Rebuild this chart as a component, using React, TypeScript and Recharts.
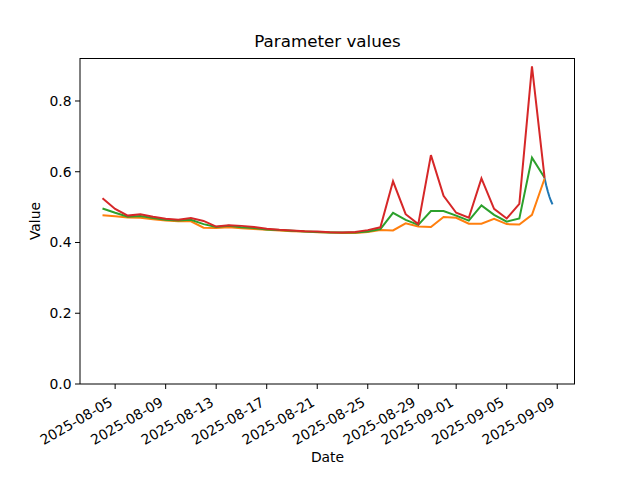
import React from 'react';
import { LineChart, Line, XAxis, YAxis } from 'recharts';

const dates = [
  '2025-08-04', '2025-08-05', '2025-08-06', '2025-08-07', '2025-08-08', '2025-08-09',
  '2025-08-10', '2025-08-11', '2025-08-12', '2025-08-13', '2025-08-14', '2025-08-15',
  '2025-08-16', '2025-08-17', '2025-08-18', '2025-08-19', '2025-08-20', '2025-08-21',
  '2025-08-22', '2025-08-23', '2025-08-24', '2025-08-25', '2025-08-26', '2025-08-27',
  '2025-08-28', '2025-08-29', '2025-08-30', '2025-08-31', '2025-09-01', '2025-09-02',
  '2025-09-03', '2025-09-04', '2025-09-05', '2025-09-06', '2025-09-07', '2025-09-08',
];

const orangeValues = [
  0.477, 0.474, 0.471, 0.470, 0.466, 0.462, 0.460, 0.460, 0.442, 0.441, 0.443, 0.440,
  0.438, 0.436, 0.434, 0.432, 0.431, 0.429, 0.428, 0.427, 0.427, 0.430, 0.435, 0.434,
  0.454, 0.445, 0.444, 0.472, 0.470, 0.453, 0.453, 0.467, 0.452, 0.451, 0.478, 0.581,
];

const greenValues = [
  0.496, 0.484, 0.473, 0.475, 0.469, 0.464, 0.462, 0.464, 0.452, 0.444, 0.447, 0.443,
  0.441, 0.437, 0.435, 0.433, 0.431, 0.430, 0.428, 0.428, 0.428, 0.431, 0.438, 0.484,
  0.464, 0.450, 0.489, 0.489, 0.476, 0.462, 0.505, 0.478, 0.459, 0.468, 0.640, 0.583,
];

const redValues = [
  0.525, 0.495, 0.476, 0.480, 0.473, 0.467, 0.464, 0.469, 0.461, 0.445, 0.449, 0.447,
  0.444, 0.439, 0.436, 0.434, 0.432, 0.431, 0.429, 0.428, 0.430, 0.435, 0.443, 0.573,
  0.480, 0.452, 0.647, 0.532, 0.484, 0.470, 0.581, 0.495, 0.468, 0.509, 0.898, 0.583,
];

const blueTimes = [
  '2025-09-08T00:00', '2025-09-08T03:00', '2025-09-08T06:00',
  '2025-09-08T09:00', '2025-09-08T12:00', '2025-09-08T15:00',
];
const blueValues = [0.582, 0.562, 0.545, 0.530, 0.518, 0.508];

const xTickLabels = [
  '2025-08-05', '2025-08-09', '2025-08-13', '2025-08-17', '2025-08-21',
  '2025-08-25', '2025-08-29', '2025-09-01', '2025-09-05', '2025-09-09',
];
const yTickValues = [0, 0.2, 0.4, 0.6, 0.8];

const toMs = (s: string) => Date.parse(s.length === 10 ? s + 'T00:00:00Z' : s + ':00Z');
const fmtDate = (v: number) => new Date(v).toISOString().slice(0, 10);

const series = [
  { name: 'orange', color: '#ff7f0e', data: dates.map((d, i) => ({ t: toMs(d), v: orangeValues[i] })) },
  { name: 'green', color: '#2ca02c', data: dates.map((d, i) => ({ t: toMs(d), v: greenValues[i] })) },
  { name: 'red', color: '#d62728', data: dates.map((d, i) => ({ t: toMs(d), v: redValues[i] })) },
];
const blueData = blueTimes.map((d, i) => ({ t: toMs(d), v: blueValues[i] }));

const allT = [...series.flatMap((s) => s.data.map((p) => p.t)), ...blueData.map((p) => p.t)];
const allV = [...orangeValues, ...greenValues, ...redValues, ...blueValues];
const tMin = Math.min(...allT);
const tMax = Math.max(...allT);
const tPad = (tMax - tMin) * 0.05;
const vMin = Math.min(...allV);
const vMax = Math.max(...allV);
const yTop = vMax + (vMax - vMin) * 0.05;

const FONT = 'DejaVu Sans';

const XTick = (props: any) => {
  const { x, payload } = props;
  const ax = x - 1.5;
  const ay = 405;
  return (
    <text
      x={ax}
      y={ay}
      transform={`rotate(-30 ${ax} ${ay})`}
      textAnchor="end"
      fontFamily={FONT}
      fontSize={13.9}
      fill="#000"
    >
      {fmtDate(payload.value)}
    </text>
  );
};

export default function App() {
  return (
    <div style={{ position: 'fixed', left: 0, top: 0, width: 640, height: 480, background: '#fff' }}>
      <LineChart
        width={640}
        height={480}
        margin={{ top: 58, right: 65, bottom: 16, left: 0 }}
      >
        <XAxis
          dataKey="t"
          type="number"
          domain={[tMin - tPad, tMax + tPad]}
          ticks={xTickLabels.map(toMs)}
          allowDataOverflow
          height={80}
          stroke="#000"
          tickLine={{ stroke: '#000' }}
          tickSize={5}
          tick={<XTick />}
          interval={0}
        />
        <YAxis
          type="number"
          domain={[0, yTop]}
          ticks={yTickValues}
          allowDataOverflow
          width={80}
          stroke="#000"
          tickLine={{ stroke: '#000' }}
          tickSize={5}
          tickMargin={3.5}
          tickFormatter={(v: number) => v.toFixed(1)}
          tick={{ fill: '#000', fontFamily: FONT, fontSize: 13.9 }}
          interval={0}
        />
        <Line
          data={blueData}
          dataKey="v"
          stroke="#1f77b4"
          strokeWidth={2}
          dot={false}
          isAnimationActive={false}
        />
        {series.map((s) => (
          <Line
            key={s.name}
            data={s.data}
            dataKey="v"
            stroke={s.color}
            strokeWidth={2}
            dot={false}
            isAnimationActive={false}
          />
        ))}
      </LineChart>
      <div
        style={{
          position: 'absolute', left: 80, top: 58, width: 495, height: 326,
          borderTop: '1px solid #000', borderRight: '1px solid #000',
          boxSizing: 'border-box', pointerEvents: 'none',
        }}
      />
      <div
        style={{
          position: 'absolute', left: 80, width: 495, top: 31, textAlign: 'center',
          fontFamily: FONT, fontSize: 16.7, color: '#000', lineHeight: '20px',
        }}
      >
        Parameter values
      </div>
      <div
        style={{
          position: 'absolute', left: 80, width: 495, top: 448, textAlign: 'center',
          fontFamily: FONT, fontSize: 13.9, color: '#000', lineHeight: '18px',
        }}
      >
        Date
      </div>
      <div
        style={{
          position: 'absolute', left: 35, top: 221, width: 0, height: 0,
        }}
      >
        <div
          style={{
            position: 'absolute', left: -40, top: -9, width: 80, textAlign: 'center',
            transform: 'rotate(-90deg)', fontFamily: FONT, fontSize: 13.9, color: '#000',
            lineHeight: '18px', whiteSpace: 'nowrap',
          }}
        >
          Value
        </div>
      </div>
    </div>
  );
}
